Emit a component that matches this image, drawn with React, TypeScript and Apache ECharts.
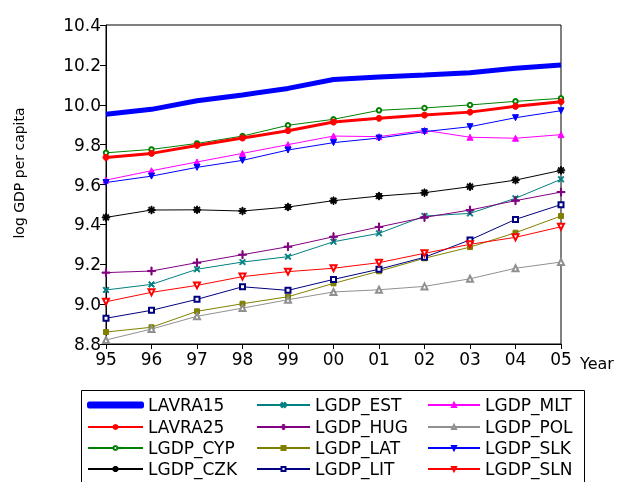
import React, { useEffect, useRef } from "react";
import * as echarts from "echarts";

const years = ["95", "96", "97", "98", "99", "00", "01", "02", "03", "04", "05"];
const yTicks = { min: 8.8, max: 10.4, interval: 0.2 };

const lavra15 = [9.952, 9.977, 10.02, 10.049, 10.082, 10.127, 10.139, 10.149, 10.16, 10.183, 10.199];
const lavra25 = [9.736, 9.756, 9.796, 9.833, 9.87, 9.913, 9.932, 9.948, 9.963, 9.992, 10.015];
const lgdpCyp = [9.759, 9.776, 9.806, 9.843, 9.897, 9.927, 9.972, 9.984, 9.999, 10.017, 10.032];
const lgdpCzk = [9.435, 9.472, 9.473, 9.467, 9.487, 9.519, 9.542, 9.559, 9.589, 9.622, 9.671];
const lgdpEst = [9.071, 9.099, 9.175, 9.211, 9.238, 9.313, 9.355, 9.442, 9.455, 9.531, 9.626];
const lgdpHug = [9.158, 9.166, 9.208, 9.248, 9.288, 9.338, 9.387, 9.435, 9.472, 9.519, 9.562];
const lgdpLat = [8.86, 8.884, 8.964, 9.002, 9.037, 9.104, 9.165, 9.23, 9.286, 9.358, 9.442];
const lgdpLit = [8.929, 8.969, 9.024, 9.087, 9.069, 9.124, 9.175, 9.235, 9.322, 9.425, 9.499];
const lgdpMlt = [9.622, 9.669, 9.713, 9.756, 9.8, 9.843, 9.84, 9.872, 9.837, 9.832, 9.85];
const lgdpPol = [8.82, 8.875, 8.939, 8.98, 9.022, 9.061, 9.072, 9.089, 9.127, 9.18, 9.211];
const lgdpSlk = [9.61, 9.642, 9.686, 9.721, 9.773, 9.81, 9.833, 9.865, 9.89, 9.935, 9.97];
const lgdpSln = [9.012, 9.059, 9.094, 9.138, 9.163, 9.18, 9.208, 9.255, 9.3, 9.335, 9.388];

const legendColumns = [
  ["LAVRA15", "LAVRA25", "LGDP_CYP", "LGDP_CZK"],
  ["LGDP_EST", "LGDP_HUG", "LGDP_LAT", "LGDP_LIT"],
  ["LGDP_MLT", "LGDP_POL", "LGDP_SLK", "LGDP_SLN"],
];

const FONT = "DejaVu Sans";

const PLUS = "path://M0,4.3H10V5.7H0ZM4.3,0H5.7V10H4.3Z";
const CROSS = "path://M2.03,0.89L9.11,7.97L7.97,9.11L0.89,2.03ZM9.11,2.03L2.03,9.11L0.89,7.97L7.97,0.89Z";
const STAR =
  "path://M0,4.3H10V5.7H0ZM4.3,0H5.7V10H4.3ZM2.03,0.89L9.11,7.97L7.97,9.11L0.89,2.03ZM9.11,2.03L2.03,9.11L0.89,7.97L7.97,0.89Z";

export default function App() {
  const ref = useRef<HTMLDivElement>(null);
  useEffect(() => {
    if (!ref.current) return;
    const chart = echarts.init(ref.current, null, { renderer: "svg" });
    const mk = (
      name: string,
      data: number[],
      color: string,
      width: number,
      symbol: string,
      size: number,
      rotate = 0,
      z = 2
    ) => ({
      name,
      type: "line",
      data,
      z,
      symbol,
      symbolSize: size,
      symbolRotate: rotate,
      showSymbol: symbol !== "none",
      lineStyle: { color, width },
      itemStyle: { color, borderColor: color, borderWidth: 1 },
      emphasis: { disabled: true },
    });
    const colLeft = [87, 256, 427];
    const colItemW = [55, 53, 52];
    const rowCenter = [405, 427, 448, 469];
    const legends: any[] = [];
    legendColumns.forEach((col, ci) =>
      col.forEach((name, ri) => {
        const thick = name === "LAVRA15";
        legends.push({
          orient: "horizontal",
          left: colLeft[ci],
          top: rowCenter[ri] - 9,
          padding: 0,
          itemWidth: colItemW[ci],
          itemHeight: 5,
          selectedMode: false,
          textStyle: { fontFamily: FONT, fontSize: 17, color: "#000", lineHeight: 18 },
          data: thick ? [{ name, icon: "roundRect" }] : [name],
        });
      })
    );
    chart.setOption({
      animation: false,
      grid: {
        left: 106,
        top: 25,
        right: 60,
        bottom: 138,
        show: true,
        borderColor: "#000",
        borderWidth: 1,
      },
      xAxis: {
        type: "category",
        data: years,
        boundaryGap: false,
        axisLine: { lineStyle: { color: "#000", width: 1 } },
        axisTick: { show: true, length: 5, lineStyle: { color: "#000" } },
        axisLabel: { fontFamily: FONT, fontSize: 17, color: "#000", margin: 6 },
        splitLine: { show: false },
      },
      yAxis: {
        type: "value",
        min: yTicks.min,
        max: yTicks.max,
        interval: yTicks.interval,
        axisLine: { show: true, lineStyle: { color: "#000", width: 1 } },
        axisTick: { show: true, length: 6, lineStyle: { color: "#000" } },
        axisLabel: {
          fontFamily: FONT,
          fontSize: 17,
          color: "#000",
          margin: 5,
          formatter: (v: number) => v.toFixed(1),
        },
        splitLine: { show: false },
      },
      legend: legends,
      graphic: [
        {
          type: "rect",
          shape: { x: 81.5, y: 390.5, width: 503, height: 100 },
          style: { fill: "none", stroke: "#000", lineWidth: 1 },
          silent: true,
        },
        {
          type: "text",
          x: 19,
          y: 173,
          rotation: Math.PI / 2,
          style: {
            text: "log GDP per capita",
            fontFamily: FONT,
            fontSize: 14,
            fill: "#000",
            align: "center",
            verticalAlign: "middle",
          },
        },
        {
          type: "text",
          x: 580,
          y: 363,
          style: {
            text: "Year",
            fontFamily: FONT,
            fontSize: 16,
            fill: "#000",
            align: "left",
            verticalAlign: "middle",
          },
        },
      ],
      series: [
        mk("LAVRA15", lavra15, "#0000FF", 5, "none", 0, 0, 5),
        mk("LAVRA25", lavra25, "#FF0000", 3, "circle", 6, 0, 4),
        mk("LGDP_CYP", lgdpCyp, "#008000", 1, "emptyCircle", 4.5),
        mk("LGDP_CZK", lgdpCzk, "#000000", 1, STAR, 7.5),
        mk("LGDP_EST", lgdpEst, "#008080", 1, CROSS, 6),
        mk("LGDP_HUG", lgdpHug, "#800080", 1, PLUS, 8),
        mk("LGDP_LAT", lgdpLat, "#808000", 1, "rect", 5),
        mk("LGDP_LIT", lgdpLit, "#000080", 1, "emptyRect", 5),
        mk("LGDP_MLT", lgdpMlt, "#FF00FF", 1, "triangle", 6),
        mk("LGDP_POL", lgdpPol, "#909090", 1, "emptyTriangle", 6),
        mk("LGDP_SLK", lgdpSlk, "#0000FF", 1, "triangle", 6, 180),
        mk("LGDP_SLN", lgdpSln, "#FF0000", 1, "emptyTriangle", 6, 180),
      ],
    });
    return () => chart.dispose();
  }, []);
  return (
    <div
      ref={ref}
      style={{ position: "fixed", left: 0, top: 0, width: 621, height: 482 }}
    />
  );
}
